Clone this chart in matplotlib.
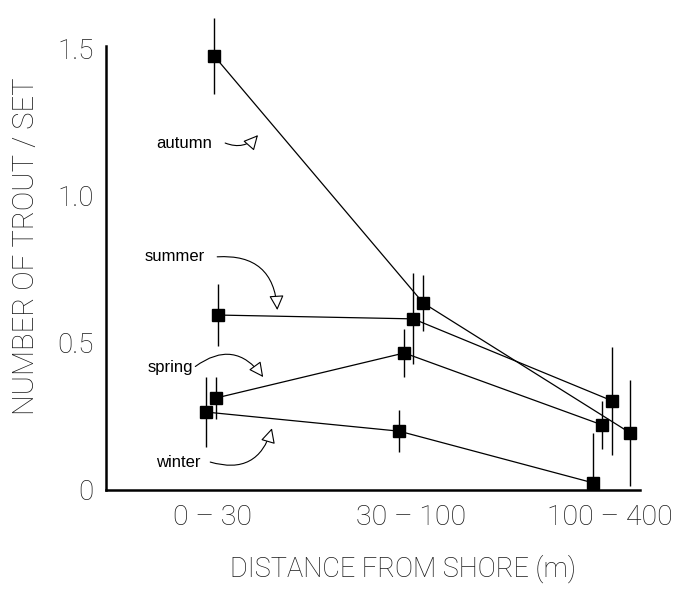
import matplotlib
matplotlib.use("Agg")
import matplotlib.pyplot as plt
import numpy as np

# ---- data ----
categories = ["0 – 30", "30 – 100", "100 – 400"]
yticks = [0, 0.5, 1.0, 1.5]
ytick_labels = ["0", "0.5", "1.0", "1.5"]

seasons = ["autumn", "summer", "spring", "winter"]
autumn = [1.476, 0.636, 0.194]
autumn_err = [0.13, 0.095, 0.18]
summer = [0.595, 0.582, 0.303]
summer_err = [0.105, 0.155, 0.185]
spring = [0.313, 0.466, 0.221]
spring_err = [0.07, 0.082, 0.082]
winter = [0.265, 0.200, 0.024]
winter_err = [0.12, 0.072, 0.17]

# horizontal dodge of each series within a category (fraction of category spacing)
autumn_dodge = [0.01, 0.06, 0.10]
summer_dodge = [0.03, 0.01, 0.01]
spring_dodge = [0.02, -0.035, -0.04]
winter_dodge = [-0.03, -0.06, -0.085]

series = {
    "autumn": (autumn, autumn_err, autumn_dodge),
    "summer": (summer, summer_err, summer_dodge),
    "spring": (spring, spring_err, spring_dodge),
    "winter": (winter, winter_err, winter_dodge),
}

light = dict(family=["Roboto", "DejaVu Sans"], fontweight='light', color='#1a1a1a')
plt.rcParams['font.family'] = ["Roboto", "DejaVu Sans"]

fig = plt.figure(figsize=(6.76, 5.92), dpi=100)
ax = fig.add_axes([0.157, 0.1723, 0.79, 0.75])

base = np.arange(len(categories))
for name in seasons:
    vals, errs, dodge = series[name]
    x = base + np.array(dodge)
    vals = np.array(vals)
    errs = np.array(errs)
    lower = np.minimum(errs, vals)
    ax.errorbar(x, vals, yerr=[lower, errs], fmt='none', ecolor='black',
                elinewidth=1.0, capsize=0, clip_on=False, zorder=2)
    ax.plot(x, vals, color='black', lw=0.9, marker='s', markersize=8.5,
            markerfacecolor='black', markeredgecolor='black', clip_on=False, zorder=3)

ax.set_xlim(-0.533, 2.15)
ax.set_ylim(0, 1.51)
ax.spines['top'].set_visible(False)
ax.spines['right'].set_visible(False)
ax.spines['left'].set_linewidth(1.8)
ax.spines['bottom'].set_linewidth(1.8)

ax.set_xticks(base)
ax.set_xticklabels(categories, fontsize=20.5, **light)
ax.set_yticks(yticks)
ax.set_yticklabels(ytick_labels, fontsize=20, **light)
ax.tick_params(axis='both', length=0)
ax.tick_params(axis='y', pad=9)
ax.tick_params(axis='x', pad=10)

ax.set_xlabel("DISTANCE FROM SHORE (m)", fontsize=19.5, labelpad=17, **light)
ax.xaxis.label.set_x(0.556)
ax.set_ylabel("NUMBER OF TROUT / SET", fontsize=21, labelpad=12, **light)
ax.yaxis.label.set_y(0.55)

# ---- annotations ----
ann = [
    ("autumn", (0.0, 1.18), (0.065, 1.18), (0.23, 1.207), 0.35),
    ("summer", (-0.035, 0.793), (0.025, 0.793), (0.327, 0.612), -0.5),
    ("spring", (-0.095, 0.415), (-0.085, 0.42), (0.256, 0.384), -0.5),
    ("winter", (-0.06, 0.092), (-0.01, 0.095), (0.30, 0.21), 0.5),
]
for label, tpos, start, head, rad in ann:
    ax.text(tpos[0], tpos[1], label, ha='right', va='center', fontsize=12,
            color='black', family=["Liberation Sans", "DejaVu Sans"])
    ax.annotate('', xy=head, xytext=start,
                arrowprops=dict(arrowstyle='-|>,head_length=0.9,head_width=0.45',
                                connectionstyle=f'arc3,rad={rad}',
                                fc='white', ec='black', lw=0.8,
                                shrinkA=0, shrinkB=0))

fig.savefig("out.png", dpi=100)
